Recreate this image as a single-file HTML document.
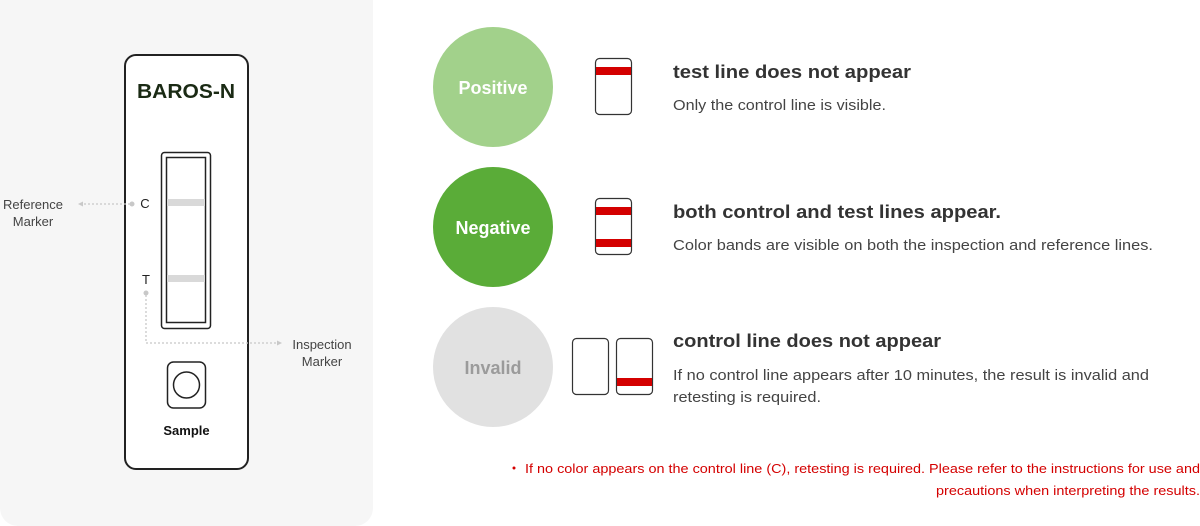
<!DOCTYPE html>
<html><head><meta charset="utf-8"><style>
html,body{margin:0;padding:0;background:#fff;}
svg{display:block;font-family:"Liberation Sans",sans-serif;}
</style></head><body>
<svg width="1200" height="526" viewBox="0 0 1200 526" xmlns="http://www.w3.org/2000/svg">
<rect x="0" y="-20" width="373" height="546" rx="18" fill="#f6f6f6"/>
<rect x="125" y="55" width="123" height="414" rx="11" fill="#fff" stroke="#222" stroke-width="2"/>
<text x="186" y="98" text-anchor="middle" font-size="20" font-weight="bold" fill="#1a2a14" textLength="98" lengthAdjust="spacingAndGlyphs">BAROS-N</text>
<rect x="161.5" y="152.5" width="49" height="176" rx="3" fill="#fff" stroke="#222" stroke-width="1.5"/>
<rect x="166.5" y="157.5" width="39" height="165" fill="#fff" stroke="#222" stroke-width="1.5"/>
<rect x="167" y="199" width="38" height="7" fill="#d9d9d9"/>
<rect x="167" y="275" width="38" height="7" fill="#d9d9d9"/>
<text x="145" y="208" text-anchor="middle" font-size="13" fill="#222">C</text>
<text x="146" y="284" text-anchor="middle" font-size="13" fill="#222">T</text>
<circle cx="132" cy="204" r="2.5" fill="#c8c8c8"/>
<line x1="130" y1="204" x2="82" y2="204" stroke="#c8c8c8" stroke-width="1.3" stroke-dasharray="2,2"/>
<polygon points="78,204 83,201.5 83,206.5" fill="#c8c8c8"/>
<text x="33" y="209" text-anchor="middle" font-size="13" fill="#444">Reference</text>
<text x="33" y="226" text-anchor="middle" font-size="13" fill="#444">Marker</text>
<circle cx="146" cy="293" r="2.5" fill="#c8c8c8"/>
<polyline points="146,295 146,343 276,343" fill="none" stroke="#c8c8c8" stroke-width="1.3" stroke-dasharray="2,2"/>
<polygon points="282,343 277,340.5 277,345.5" fill="#c8c8c8"/>
<text x="322" y="349" text-anchor="middle" font-size="13" fill="#444">Inspection</text>
<text x="322" y="366" text-anchor="middle" font-size="13" fill="#444">Marker</text>
<rect x="167.5" y="362" width="38" height="46" rx="6" fill="#fff" stroke="#222" stroke-width="1.5"/>
<circle cx="186.5" cy="385" r="13" fill="#fff" stroke="#222" stroke-width="1.5"/>
<text x="186.5" y="435" text-anchor="middle" font-size="13" font-weight="bold" fill="#111">Sample</text>
<circle cx="493" cy="87" r="60" fill="#a2d18b"/>
<text x="493" y="94" text-anchor="middle" font-size="18" font-weight="bold" fill="#fff">Positive</text>
<circle cx="493" cy="227" r="60" fill="#5aac38"/>
<text x="493" y="234" text-anchor="middle" font-size="18" font-weight="bold" fill="#fff">Negative</text>
<circle cx="493" cy="367" r="60" fill="#e1e1e1"/>
<text x="493" y="374" text-anchor="middle" font-size="18" font-weight="bold" fill="#9b9b9b">Invalid</text>
<rect x="595.5" y="58.5" width="36" height="56" rx="4" fill="#fff" stroke="#333" stroke-width="1.2"/>
<rect x="596" y="67" width="35" height="8" fill="#d40000"/>
<rect x="595.5" y="198.5" width="36" height="56" rx="4" fill="#fff" stroke="#333" stroke-width="1.2"/>
<rect x="596" y="207" width="35" height="8" fill="#d40000"/>
<rect x="596" y="239" width="35" height="8" fill="#d40000"/>
<rect x="572.5" y="338.5" width="36" height="56" rx="4" fill="#fff" stroke="#333" stroke-width="1.2"/>
<rect x="616.5" y="338.5" width="36" height="56" rx="4" fill="#fff" stroke="#333" stroke-width="1.2"/>
<rect x="617" y="378" width="35" height="8" fill="#d40000"/>
<g fill="#333">
<text x="673" y="78" font-size="18" font-weight="bold" textLength="238" lengthAdjust="spacingAndGlyphs">test line does not appear</text>
<text x="673" y="110" font-size="15" fill="#444" textLength="213" lengthAdjust="spacingAndGlyphs">Only the control line is visible.</text>
<text x="673" y="218" font-size="18" font-weight="bold" textLength="328" lengthAdjust="spacingAndGlyphs">both control and test lines appear.</text>
<text x="673" y="250" font-size="15" fill="#444" textLength="480" lengthAdjust="spacingAndGlyphs">Color bands are visible on both the inspection and reference lines.</text>
<text x="673" y="347" font-size="18" font-weight="bold" textLength="268" lengthAdjust="spacingAndGlyphs">control line does not appear</text>
<text x="673" y="380" font-size="15" fill="#444" textLength="476" lengthAdjust="spacingAndGlyphs">If no control line appears after 10 minutes, the result is invalid and</text>
<text x="673" y="402" font-size="15" fill="#444" textLength="148" lengthAdjust="spacingAndGlyphs">retesting is required.</text>
</g>
<g fill="#d40000" font-size="13">
<circle cx="514" cy="468" r="1.5"/>
<text x="525" y="473" textLength="675" lengthAdjust="spacingAndGlyphs">If no color appears on the control line (C), retesting is required.  Please refer to the instructions for use and</text>
<text x="936" y="495" textLength="264" lengthAdjust="spacingAndGlyphs">precautions when interpreting the results.</text>
</g>
</svg>
</body></html>
